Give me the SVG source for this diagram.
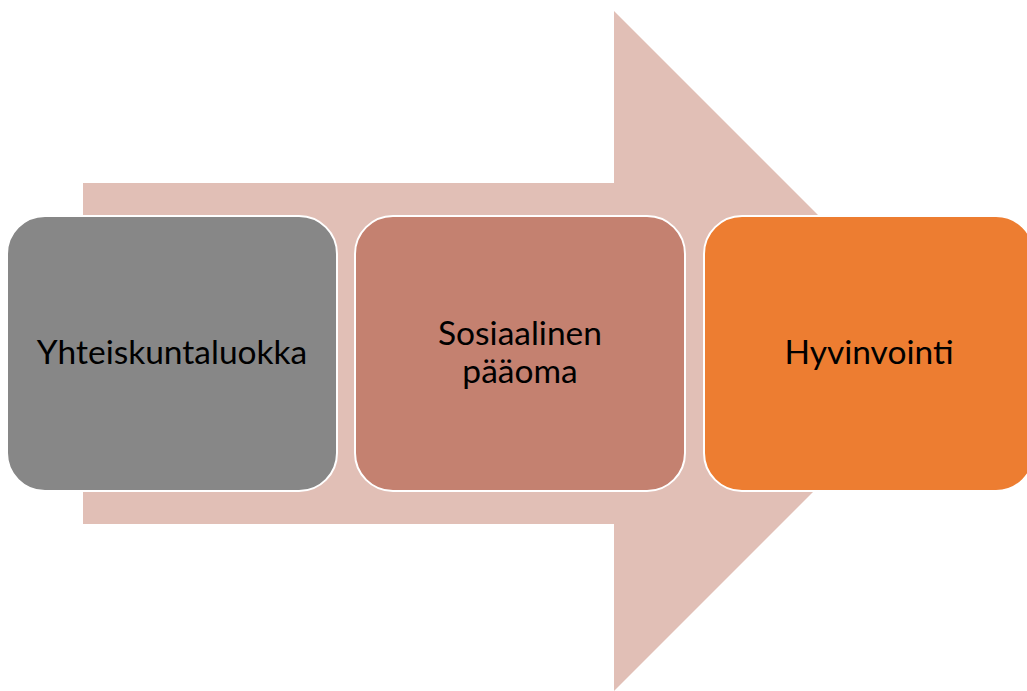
<svg xmlns="http://www.w3.org/2000/svg" width="1027" height="691" viewBox="0 0 1027 691">
<style>
.box{stroke:#ffffff;stroke-width:2}
.lbl{font-family:Lato,"Liberation Sans",sans-serif;font-size:33.5px;fill:#000000;text-anchor:middle}
</style>
<rect width="1027" height="691" fill="#ffffff"/>
<g id="arrow">
<polygon points="83,183 614,183 614,11 954,351 614,691 614,524 83,524" fill="#E1BFB6"/>
</g>
<g id="node1">
<rect class="box" x="7" y="216" width="330" height="275" rx="38" fill="#878787"/>
<text class="lbl" x="172" y="364">Yhteiskuntaluokka</text>
</g>
<g id="node2">
<rect class="box" x="355" y="216" width="330" height="275" rx="38" fill="#C48170"/>
<text class="lbl" x="520" y="345">Sosiaalinen</text>
<text class="lbl" x="520" y="383">pääoma</text>
</g>
<g id="node3">
<rect class="box" x="704" y="216" width="330" height="275" rx="38" fill="#ED7D31"/>
<text class="lbl" x="869" y="364">Hyvinvointi</text>
</g>
<g id="connectors"></g>
</svg>
